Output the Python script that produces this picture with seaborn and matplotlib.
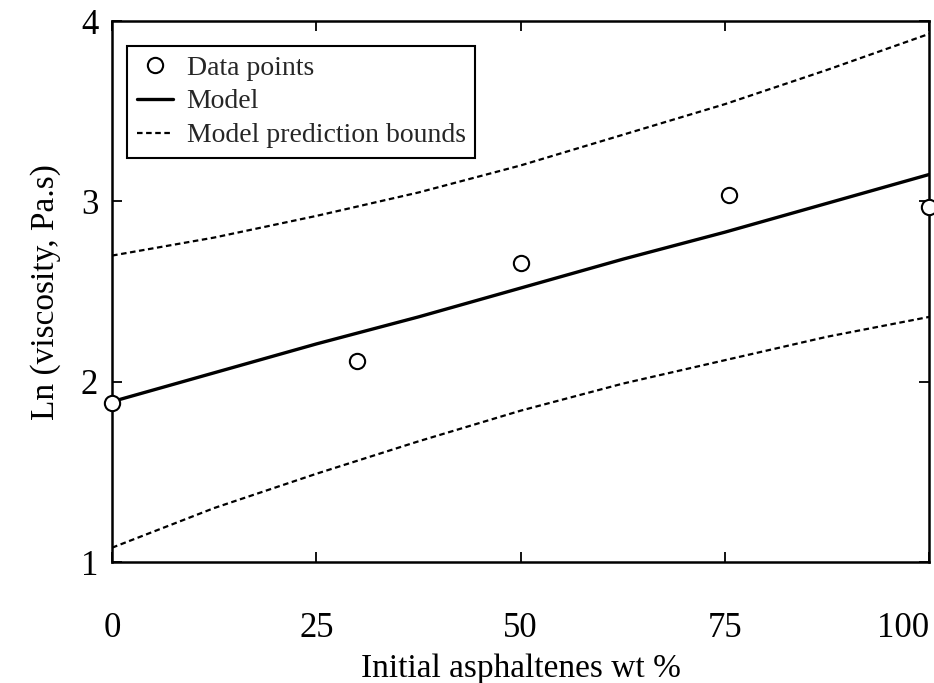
import matplotlib
matplotlib.use("Agg")
import matplotlib.pyplot as plt
import seaborn as sns
import pandas as pd

sns.set_theme(style="ticks")
plt.rcParams['font.family'] = ['Liberation Serif', 'DejaVu Serif']

# data points
asph_pts = [0, 30, 50, 75.5, 100]
lnvisc_pts = [1.88, 2.115, 2.66, 3.035, 2.97]

# model and prediction bounds
x_grid = [0, 12.5, 25, 37.5, 50, 62.5, 75, 87.5, 100]
model = [1.89, 2.05, 2.21, 2.36, 2.52, 2.68, 2.83, 2.99, 3.15]
upper = [2.70, 2.80, 2.92, 3.05, 3.20, 3.37, 3.54, 3.73, 3.93]
lower = [1.08, 1.30, 1.49, 1.67, 1.84, 1.99, 2.12, 2.25, 2.36]
x_ticks = [0, 25, 50, 75, 100]
y_ticks = [1, 2, 3, 4]

pts = pd.DataFrame({'x': asph_pts, 'y': lnvisc_pts})
curves = pd.DataFrame({'x': x_grid, 'model': model, 'upper': upper, 'lower': lower})

fig = plt.figure(figsize=(9.34, 6.83), dpi=100)
ax = fig.add_axes([0.12, 0.177, 0.875, 0.792])

sns.lineplot(data=curves, x='x', y='upper', ax=ax, color='black', lw=1.6,
             linestyle=(0, (2.5, 1.6)), label='Model prediction bounds')
sns.lineplot(data=curves, x='x', y='lower', ax=ax, color='black', lw=1.6,
             linestyle=(0, (2.5, 1.6)))
sns.lineplot(data=curves, x='x', y='model', ax=ax, color='black', lw=2.4, label='Model')
ax.plot(pts['x'], pts['y'], linestyle='none', marker='o', ms=11, mfc='white',
        mec='black', mew=1.5, clip_on=False, zorder=5, label='Data points')

ax.set_xlim(0, 100)
ax.set_ylim(1, 4)
ax.set_xticks(x_ticks)
ax.set_yticks(y_ticks)
ax.tick_params(direction='in', length=7, width=1.3, top=True, right=True,
               labelsize=25, color='black', labelcolor='black')
ax.tick_params(axis='x', pad=36)
ax.tick_params(axis='y', pad=10)
ax.get_xticklabels()[-1].set_horizontalalignment('right')
ax.get_xticklabels()[-1].set_x(100)
for s in ax.spines.values():
    s.set_linewidth(1.8)
    s.set_color('black')

ax.set_xlabel('Initial asphaltenes wt %', fontsize=24, color='black', labelpad=6)
ax.set_ylabel('Ln (viscosity, Pa.s)', fontsize=24, color='black', labelpad=14)

h, l = ax.get_legend_handles_labels()
order = [l.index('Data points'), l.index('Model'), l.index('Model prediction bounds')]
leg = ax.legend([h[i] for i in order], [l[i] for i in order], loc='upper left',
                bbox_to_anchor=(0.018, 0.955), fontsize=20, frameon=True,
                fancybox=False, edgecolor='black', framealpha=1, handlelength=1.3,
                handletextpad=0.5, labelspacing=0.3, borderpad=0.35, borderaxespad=0)
leg.get_frame().set_linewidth(1.5)

fig.savefig('out.png', dpi=100)
